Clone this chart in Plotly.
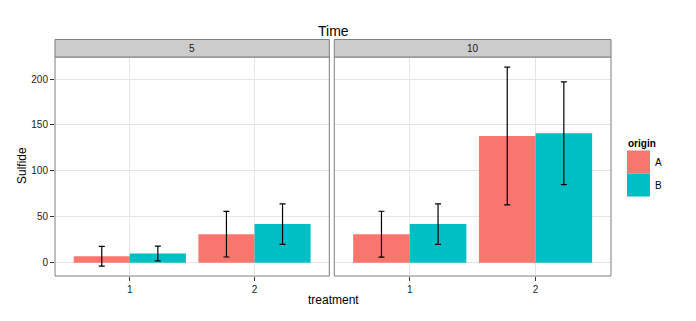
import plotly.graph_objects as go

# ---- data ----
treatment = [1, 2]
time_panels = ["5", "10"]
origins = ["A", "B"]
colors = {"A": "#F8766D", "B": "#00BFC4"}

sulfide_5_A = [7, 31]
err_5_A = [10.7, 24.8]
sulfide_5_B = [10, 42]
err_5_B = [8, 22]

sulfide_10_A = [31, 138]
err_10_A = [25, 75]
sulfide_10_B = [42, 141]
err_10_B = [22, 56]

panel_data = {
    "5": {"A": (sulfide_5_A, err_5_A), "B": (sulfide_5_B, err_5_B)},
    "10": {"A": (sulfide_10_A, err_10_A), "B": (sulfide_10_B, err_10_B)},
}

# ---- layout geometry ----
W, H = 696, 321
ML, MR, MT, MB = 55, 85, 57, 45
pw = W - ML - MR
ph = H - MT - MB

def px2paper_x(px):
    return (px - ML) / pw

def py2paper_y(py):
    return (H - MB - py) / ph

dom1 = [0, px2paper_x(329.3)]
dom2 = [px2paper_x(334.3), 1]

fig = go.Figure()
axes = ["x", "x2"]
for i, t in enumerate(time_panels):
    for o in origins:
        vals, errs = panel_data[t][o]
        fig.add_trace(go.Bar(
            x=treatment, y=vals, name=o, marker_color=colors[o],
            marker_line_width=0, xaxis=axes[i], yaxis="y",
            offsetgroup=o, showlegend=False,
            error_y=dict(type="data", array=errs, visible=True,
                         color="black", thickness=1.2, width=3),
        ))

grid = "#e5e5e5"
border = "#7f7f7f"
tickc = "#333333"
tickfont = dict(family="Liberation Sans, Arial", size=10, color="#222222")
xcommon = dict(range=[0.4, 2.6], tickvals=[1, 2], ticktext=["1", "2"],
               showgrid=True, gridcolor=grid, gridwidth=1, zeroline=False,
               ticks="outside", ticklen=4, tickcolor=tickc, tickwidth=1,
               showline=False, tickfont=tickfont, anchor="y", fixedrange=True)

fig.update_layout(
    width=W, height=H,
    margin=dict(l=ML, r=MR, t=MT, b=MB),
    paper_bgcolor="white", plot_bgcolor="white",
    barmode="group", bargap=0.1, bargroupgap=0,
    font=dict(family="Liberation Sans, Arial", color="black"),
    xaxis=dict(domain=dom1, **xcommon),
    xaxis2=dict(domain=dom2, **xcommon),
    yaxis=dict(range=[-14.5, 224], tickvals=[0, 50, 100, 150, 200],
               showgrid=True, gridcolor=grid, gridwidth=1, zeroline=False,
               ticks="outside", ticklen=4, tickcolor=tickc, tickwidth=1,
               tickfont=tickfont, anchor="x", fixedrange=True),
    showlegend=False,
)

shapes = []
annotations = []
strip_top = py2paper_y(39.5)
for dom, label in zip([dom1, dom2], time_panels):
    # panel border
    shapes.append(dict(type="rect", xref="paper", yref="paper",
                       x0=dom[0], x1=dom[1], y0=0, y1=1,
                       line=dict(color=border, width=1), fillcolor="rgba(0,0,0,0)",
                       layer="above"))
    # strip
    shapes.append(dict(type="rect", xref="paper", yref="paper",
                       x0=dom[0], x1=dom[1], y0=1, y1=strip_top,
                       line=dict(color=border, width=1), fillcolor="#cccccc"))
    annotations.append(dict(text=label, xref="paper", yref="paper",
                            x=(dom[0] + dom[1]) / 2, y=(1 + strip_top) / 2,
                            showarrow=False, xanchor="center", yanchor="middle",
                            font=dict(size=10, color="#1a1a1a")))

# title
annotations.append(dict(text="Time", xref="paper", yref="paper", x=0.5,
                        y=py2paper_y(31), showarrow=False, xanchor="center",
                        yanchor="middle", font=dict(size=14, color="black")))
# axis titles
annotations.append(dict(text="treatment", xref="paper", yref="paper", x=0.5,
                        y=py2paper_y(300), showarrow=False, xanchor="center",
                        yanchor="middle", font=dict(size=12, color="black")))
annotations.append(dict(text="Sulfide", xref="paper", yref="paper",
                        x=px2paper_x(22), y=py2paper_y(166), showarrow=False,
                        textangle=-90, xanchor="center", yanchor="middle",
                        font=dict(size=12, color="black")))

# legend (drawn manually, ggplot style keys)
annotations.append(dict(text="<b>origin</b>", xref="paper", yref="paper",
                        x=px2paper_x(626), y=py2paper_y(143), showarrow=False,
                        xanchor="left", yanchor="middle",
                        font=dict(size=10, color="black")))
key_top = 150.5
key_h = 23
for k, o in enumerate(origins):
    y0 = key_top + k * key_h
    shapes.append(dict(type="rect", xref="paper", yref="paper",
                       x0=px2paper_x(627), x1=px2paper_x(650),
                       y0=py2paper_y(y0), y1=py2paper_y(y0 + key_h),
                       line=dict(width=0), fillcolor=colors[o]))
    annotations.append(dict(text=o, xref="paper", yref="paper",
                            x=px2paper_x(653), y=py2paper_y(y0 + key_h / 2),
                            showarrow=False, xanchor="left", yanchor="middle",
                            font=dict(size=10, color="black")))

fig.update_layout(shapes=shapes, annotations=annotations)
fig.write_html("out.html")
